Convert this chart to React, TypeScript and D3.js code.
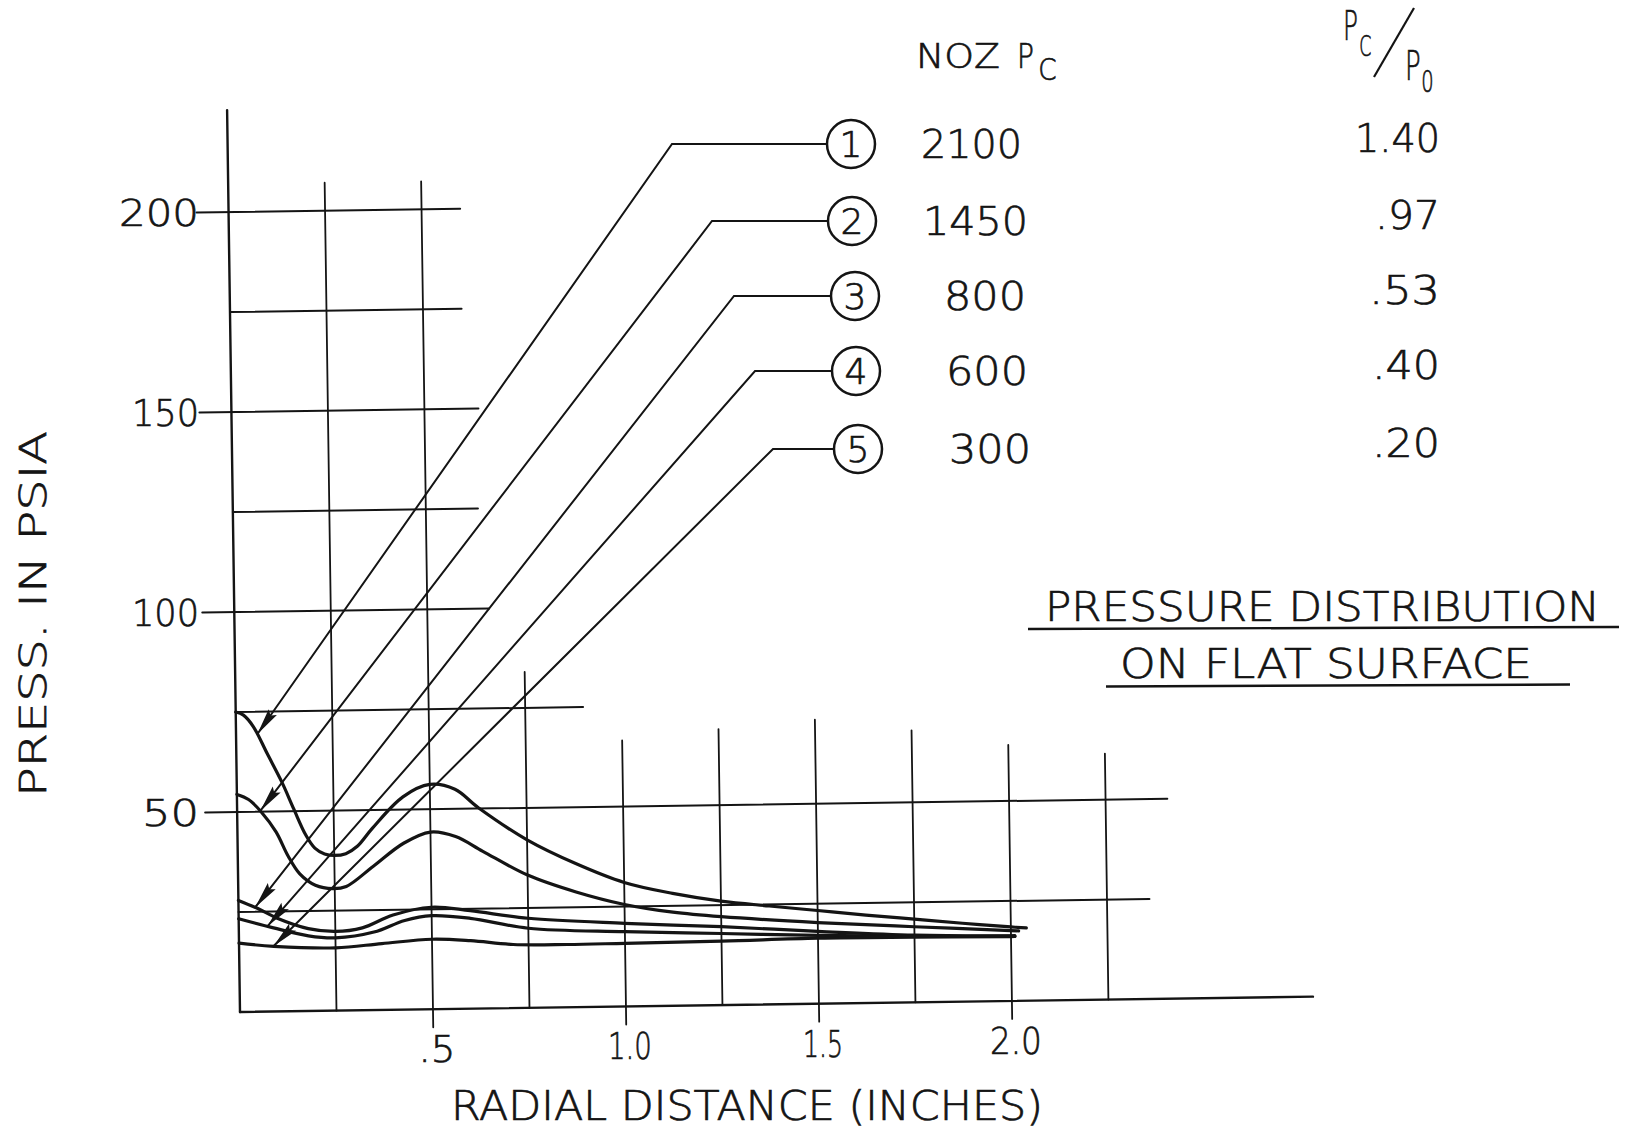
import React from "react";
import * as d3 from "d3";

// ---- data: radial distance (in) vs surface pressure (psia) per nozzle ----
const nozzleNumbers = ["1", "2", "3", "4", "5"];
const chamberPressures = ["2100", "1450", "800", "600", "300"];
const pressureRatios = ["1.40", ".97", ".53", ".40", ".20"];

type Pt = [number, number];

const series1: Pt[] = [
  [0, 75], [0.02, 74.2], [0.045, 71.3], [0.08, 64.5], [0.117, 57.3], [0.147, 50.5],
  [0.177, 44], [0.2, 40.7], [0.225, 39.2], [0.25, 38.8], [0.28, 39.2], [0.31, 41],
  [0.35, 45.5], [0.43, 53.2], [0.5, 56.2], [0.565, 54.9], [0.625, 50.2], [0.75, 42],
  [0.875, 35.9], [1.0, 31], [1.125, 28.1], [1.25, 26], [1.375, 24.6], [1.5, 23.3],
  [1.625, 22], [1.75, 20.8], [1.875, 19.6], [2.0, 18.5], [2.04, 18.2],
];
const series2: Pt[] = [
  [0, 54.4], [0.03, 53.1], [0.062, 50], [0.1, 44.9], [0.13, 38.9], [0.16, 34.3],
  [0.2, 31.4], [0.245, 30.5], [0.28, 31], [0.35, 35.9], [0.43, 41.6], [0.5, 44.3],
  [0.565, 43.1], [0.635, 39.3], [0.75, 33.2], [0.875, 28.8], [1.0, 25.5], [1.125, 23.4],
  [1.25, 22.1], [1.5, 20.3], [1.75, 18.9], [2.0, 17.6], [2.02, 17.5],
];
const series3: Pt[] = [
  [0, 27.9], [0.05, 25.8], [0.1, 23.3], [0.18, 20.6], [0.25, 19.8], [0.32, 20.6],
  [0.4, 23.7], [0.5, 25.5], [0.6, 24.5], [0.75, 22.4], [1.0, 20.8], [1.25, 19.6],
  [1.5, 18.1], [1.75, 16.8], [2.0, 16.3], [2.01, 16.3],
];
const series4: Pt[] = [
  [0, 23.3], [0.09, 20.9], [0.18, 18.8], [0.25, 18.2], [0.35, 19.5], [0.43, 22.3],
  [0.5, 23.4], [0.6, 22.6], [0.75, 19.9], [1.0, 18.7], [1.25, 17.9], [1.5, 17.1],
  [1.75, 16.5], [2.0, 16.2], [2.01, 16.2],
];
const series5: Pt[] = [
  [0, 17.2], [0.09, 16.3], [0.25, 15.7], [0.37, 16.6], [0.5, 17.5], [0.6, 17.0],
  [0.71, 15.9], [0.85, 15.7], [1.0, 15.8], [1.25, 16.0], [1.5, 16.4], [1.75, 16.3],
  [2.0, 16.1], [2.01, 16.1],
];
const seriesList = [series1, series2, series3, series4, series5];

// radial position (in) where each leader arrow meets its curve
const arrowTipRadius = [0.055, 0.06, 0.043, 0.074, 0.089];

const radialTickValues = [0.5, 1.0, 1.5, 2.0];
const radialTickLabels = [".5", "1.0", "1.5", "2.0"];
const pressureTickValues = [50, 100, 150, 200];
const pressureTickLabels = ["50", "100", "150", "200"];

// ---- layout ----
const W = 1636;
const H = 1136;
const ORIGIN_X = 240;
const ORIGIN_Y = 1012;
const PX_PER_INCH = 386;
const PX_PER_PSI = 4;
const TILT = 0.0143; // the drawing sits slightly rotated on the sheet
const TICK_LEN = 32;
const INK = "#141414";
const FONT = "'DejaVu Sans', 'Liberation Sans', sans-serif";

// horizontal rules: pressure level, right end (in), labelled rows get a tick
const GRID_ROWS = [
  { p: 0, r1: 2.78, tick: false },
  { p: 25, r1: 2.36, tick: false },
  { p: 50, r1: 2.41, tick: true },
  { p: 75, r1: 0.9, tick: false },
  { p: 100, r1: 0.66, tick: true },
  { p: 125, r1: 0.635, tick: false },
  { p: 150, r1: 0.64, tick: true },
  { p: 175, r1: 0.6, tick: false },
  { p: 200, r1: 0.6, tick: true },
];
// vertical rules: radius, top (psia)
const GRID_COLS = [
  { r: 0.25, top: 207 }, { r: 0.5, top: 207 }, { r: 0.75, top: 84 },
  { r: 1.0, top: 66.5 }, { r: 1.25, top: 69 }, { r: 1.5, top: 71 },
  { r: 1.75, top: 68 }, { r: 2.0, top: 64 }, { r: 2.25, top: 61.5 },
];
const AXIS_TOP = 225.5;

const LEGEND_CX = [851, 852, 855, 856, 858];
const LEGEND_CY = [144, 221, 296, 371, 449];
const LEGEND_R = 24;
const KNEE_X = [672, 712, 734, 755, 773];
const PC_RIGHT = [1022, 1028, 1026, 1028, 1031];
const PC_WIDTH = [101, 105, 82, 82, 82];
const RATIO_RIGHT = 1440;
const RATIO_WIDTH = [85, 65, 71, 68, 68];
const XTICK_WIDTH = [37, 44, 40, 52];
const YTICK_WIDTH = [57, 67, 67, 80];

export default function App() {
  const x = d3.scaleLinear().domain([0, 1]).range([0, PX_PER_INCH]);
  const y = d3.scaleLinear().domain([0, 100]).range([0, 100 * PX_PER_PSI]);
  const cs = Math.cos(TILT);
  const sn = Math.sin(TILT);
  const project = (r: number, p: number): [number, number] => {
    const u = x(r);
    const v = y(p);
    return [ORIGIN_X + u * cs - v * sn, ORIGIN_Y - u * sn - v * cs];
  };
  const tickR = x.invert(-TICK_LEN);

  const line = d3
    .line<Pt>()
    .x((d) => project(d[0], d[1])[0])
    .y((d) => project(d[0], d[1])[1])
    .curve(d3.curveCatmullRom.alpha(0.5));

  const valueAt = (s: Pt[], r: number) => {
    const i = Math.max(1, Math.min(s.length - 1, d3.bisector((d: Pt) => d[0]).left(s, r)));
    const a = s[i - 1];
    const b = s[i];
    return a[1] + ((r - a[0]) / (b[0] - a[0])) * (b[1] - a[1]);
  };

  const seg = (r0: number, p0: number, r1: number, p1: number, key: string, sw = 2) => {
    const [x0, y0] = project(r0, p0);
    const [x1, y1] = project(r1, p1);
    return <line key={key} x1={x0} y1={y0} x2={x1} y2={y1} stroke={INK} strokeWidth={sw} />;
  };

  const baseText = {
    fontFamily: FONT,
    fontWeight: 300,
    fill: INK,
    stroke: INK,
    strokeWidth: 0.7,
  };
  const textProps = {
    ...baseText,
    lengthAdjust: "spacingAndGlyphs" as const,
  };

  return (
    <svg
      width={W}
      height={H}
      viewBox={`0 0 ${W} ${H}`}
      style={{ position: "absolute", left: 0, top: 0, background: "#fff" }}
    >
      <rect x={0} y={0} width={W} height={H} fill="#fff" />

      {/* grid and axes */}
      <g strokeLinecap="round">
        {seg(0, 0, 0, AXIS_TOP, "yaxis", 2.4)}
        {GRID_ROWS.map((g) => seg(g.tick ? tickR : 0, g.p, g.r1, g.p, `row${g.p}`, g.p === 0 ? 2.4 : 2))}
        {GRID_COLS.map((c) =>
          seg(
            c.r,
            radialTickValues.includes(c.r) ? -4.5 : 0,
            c.r,
            c.top,
            `col${c.r}`,
            1.8
          )
        )}
      </g>

      {/* pressure distribution curves */}
      <g fill="none" stroke={INK} strokeWidth={3.2} strokeLinejoin="round" strokeLinecap="round">
        {seriesList.map((s, i) => (
          <path key={`s${i}`} d={line(s) ?? ""} />
        ))}
      </g>

      {/* leader lines from the legend to the curves */}
      <g>
        {seriesList.map((s, i) => {
          const r = arrowTipRadius[i];
          const [tx, ty] = project(r, valueAt(s, r));
          const cy = LEGEND_CY[i];
          const kx = KNEE_X[i];
          const dx = kx - tx;
          const dy = cy - ty;
          const len = Math.hypot(dx, dy);
          const ux = dx / len;
          const uy = dy / len;
          const nx = -uy;
          const ny = ux;
          const L = 27;
          const w = 5;
          const head = [
            [tx, ty],
            [tx + ux * L + nx * w, ty + uy * L + ny * w],
            [tx + ux * (L - 4), ty + uy * (L - 4)],
            [tx + ux * L - nx * w, ty + uy * L - ny * w],
          ]
            .map((p) => p.join(","))
            .join(" ");
          return (
            <g key={`lead${i}`}>
              <polyline
                points={`${LEGEND_CX[i] - LEGEND_R},${cy} ${kx},${cy} ${tx},${ty}`}
                fill="none"
                stroke={INK}
                strokeWidth={2}
              />
              <polygon points={head} fill={INK} />
            </g>
          );
        })}
      </g>

      {/* legend */}
      <g>
        {nozzleNumbers.map((n, i) => (
          <g key={`leg${i}`}>
            <circle cx={LEGEND_CX[i]} cy={LEGEND_CY[i]} r={LEGEND_R} fill="#fff" stroke={INK} strokeWidth={2.5} />
            <text {...textProps} x={LEGEND_CX[i]} y={LEGEND_CY[i] + 13} fontSize={36} textAnchor="middle">
              {n}
            </text>
            <text
              {...textProps}
              x={PC_RIGHT[i] - PC_WIDTH[i]}
              y={LEGEND_CY[i] + 14}
              fontSize={39}
              textLength={PC_WIDTH[i]}
            >
              {chamberPressures[i]}
            </text>
            <text
              {...textProps}
              x={RATIO_RIGHT - RATIO_WIDTH[i]}
              y={LEGEND_CY[i] + 8}
              fontSize={39}
              textLength={RATIO_WIDTH[i]}
            >
              {pressureRatios[i]}
            </text>
          </g>
        ))}
        {/* column headings */}
        <text {...textProps} x={916} y={68} fontSize={33} textLength={84}>
          NOZ
        </text>
        <text {...baseText} transform="translate(1017,68) scale(0.85,1)" fontSize={33}>
          P
          <tspan dx={5} dy={12} fontSize={31}>
            C
          </tspan>
        </text>
        <text {...baseText} transform="translate(1343,40) scale(0.62,1)" fontSize={40}>
          P
          <tspan dx={2} dy={16} fontSize={28}>
            C
          </tspan>
        </text>
        <line x1={1414} y1={8} x2={1374} y2={77} stroke={INK} strokeWidth={2.2} />
        <text {...baseText} transform="translate(1405,80) scale(0.65,1)" fontSize={40}>
          P
          <tspan dx={1} dy={12} fontSize={30}>
            0
          </tspan>
        </text>
      </g>

      {/* tick labels */}
      <g>
        {pressureTickValues.map((p, i) => {
          const [, sy] = project(0, p);
          return (
            <text
              key={`yl${p}`}
              {...textProps}
              x={199 - YTICK_WIDTH[i]}
              y={sy + 14}
              fontSize={38}
              textLength={YTICK_WIDTH[i]}
            >
              {pressureTickLabels[i]}
            </text>
          );
        })}
        {radialTickValues.map((r, i) => {
          const [sx, sy] = project(r, 0);
          return (
            <text
              key={`xl${r}`}
              {...textProps}
              x={sx + 4 - XTICK_WIDTH[i] / 2}
              y={sy + 53}
              fontSize={38}
              textLength={XTICK_WIDTH[i]}
            >
              {radialTickLabels[i]}
            </text>
          );
        })}
      </g>

      {/* axis titles */}
      <text {...textProps} x={451} y={1120} fontSize={40} textLength={592}>
        RADIAL DISTANCE (INCHES)
      </text>
      <text
        {...textProps}
        transform="translate(46,614) rotate(-90)"
        x={-183}
        y={0}
        fontSize={38}
        textLength={366}
      >
        PRESS. IN PSIA
      </text>

      {/* chart title */}
      <text {...textProps} x={1045} y={621} fontSize={41} textLength={555}>
        PRESSURE DISTRIBUTION
      </text>
      <line x1={1028} y1={629} x2={1619} y2={627} stroke={INK} strokeWidth={2.4} />
      <text {...textProps} x={1120} y={678} fontSize={41} textLength={412}>
        ON FLAT SURFACE
      </text>
      <line x1={1106} y1={686.5} x2={1570} y2={684.5} stroke={INK} strokeWidth={2.4} />
    </svg>
  );
}
